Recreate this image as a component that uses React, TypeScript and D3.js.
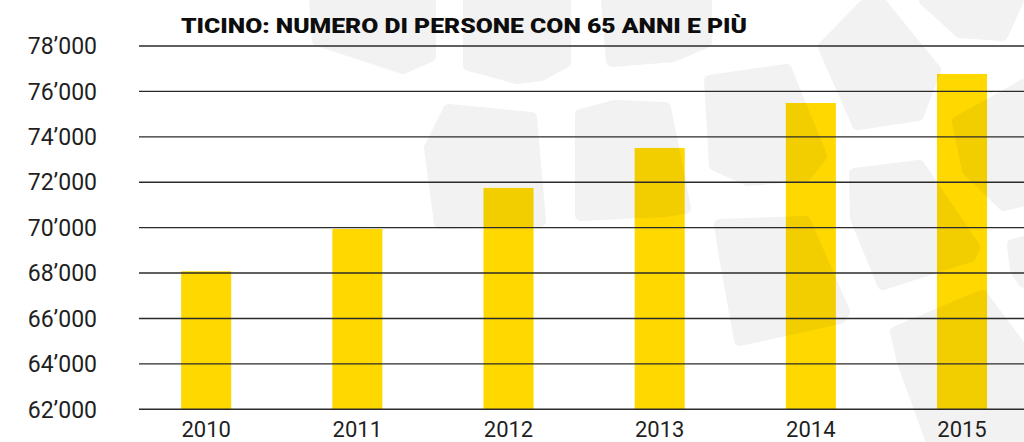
import React from "react";
import * as d3 from "d3";

const TITLE = "TICINO: NUMERO DI PERSONE CON 65 ANNI E PIÙ";
const years = ["2010", "2011", "2012", "2013", "2014", "2015"];
const persons = [68080, 69940, 71750, 73510, 75490, 76770];
const yTicks = [62000, 64000, 66000, 68000, 70000, 72000, 74000, 76000, 78000];
const yDomain = [62000, 78000];

// decorative watermark blobs in the background (not data)
const blobs: number[][][] = [
  [[315, 0], [430, 0], [430, 56], [403, 68], [318, 40]],
  [[469, 0], [565, 0], [565, 62], [541, 75], [517, 78], [469, 65]],
  [[607, 0], [706, 0], [706, 42], [673, 56], [612, 61]],
  [[925, 0], [1018, 0], [1002, 35], [960, 32]],
  [[824, 47], [864, 6], [882, 5], [935, 70], [918, 115], [858, 124]],
  [[710, 81], [786, 70], [821, 156], [806, 175], [748, 180], [715, 165]],
  [[958, 122], [1024, 85], [1024, 200], [1004, 205], [968, 170]],
  [[449, 110], [531, 118], [540, 221], [440, 223], [430, 148]],
  [[581, 115], [614, 106], [665, 108], [685, 208], [663, 211], [581, 215]],
  [[855, 174], [919, 166], [974, 247], [970, 256], [883, 284], [856, 218]],
  [[720, 225], [805, 222], [844, 312], [840, 318], [740, 340], [726, 262]],
  [[896, 332], [982, 296], [1024, 352], [1024, 442], [932, 442], [903, 362]],
  [[1013, 245], [1024, 242], [1024, 282], [1016, 270]],
];

const fmt = d3.formatLocale({
  decimal: ".",
  thousands: "\u2019",
  grouping: [3],
  currency: ["", ""],
}).format(",");

export default function App() {
  const W = 1024;
  const H = 442;
  const x = d3
    .scaleBand<string>()
    .domain(years)
    .range([130.6, 1037.6])
    .paddingInner(0.669)
    .paddingOuter(0.3345);
  const y = d3.scaleLinear().domain(yDomain).range([409.3, 46]);
  const line = d3.line<number[]>().curve(d3.curveLinearClosed);
  const font = "Roboto, 'DejaVu Sans', sans-serif";

  return (
    <svg
      width={W}
      height={H}
      viewBox={`0 0 ${W} ${H}`}
      style={{ position: "absolute", left: 0, top: 0, display: "block", background: "#fff" }}
    >
      <rect x={0} y={0} width={W} height={H} fill="#fff" />
      {/* bars */}
      <g>
        {years.map((yr, i) => (
          <rect
            key={yr}
            x={x(yr)}
            y={y(persons[i])}
            width={x.bandwidth()}
            height={y(yDomain[0]) - y(persons[i])}
            fill="#FFD800"
          />
        ))}
      </g>
      {/* watermark */}
      <g opacity={0.047}>
        {blobs.map((b, i) => (
          <path
            key={i}
            d={line(b as any) || ""}
            fill="#000"
            stroke="#000"
            strokeWidth={12}
            strokeLinejoin="round"
          />
        ))}
      </g>
      {/* gridlines */}
      <g>
        {yTicks.map((t) => (
          <line
            key={t}
            x1={139}
            x2={W}
            y1={y(t)}
            y2={y(t)}
            stroke="#2b2b2b"
            strokeWidth={1.4}
          />
        ))}
      </g>
      {/* y labels */}
      <g fontFamily={font} fontSize={23} fill="#1f1f1f">
        {yTicks.map((t) => (
          <text key={t} x={97} y={y(t) + 8.2} textAnchor="end">
            {fmt(t)}
          </text>
        ))}
      </g>
      {/* x labels */}
      <g fontFamily={font} fontSize={22} fill="#1f1f1f">
        {years.map((yr) => (
          <text key={yr} x={(x(yr) as number) + x.bandwidth() / 2} y={437} textAnchor="middle">
            {yr}
          </text>
        ))}
      </g>
      <text
        x={181}
        y={33}
        fontFamily={font}
        fontWeight={900}
        fontSize={21}
        fill="#0d0d0d"
        textLength={566}
        lengthAdjust="spacingAndGlyphs"
      >
        {TITLE}
      </text>
    </svg>
  );
}
